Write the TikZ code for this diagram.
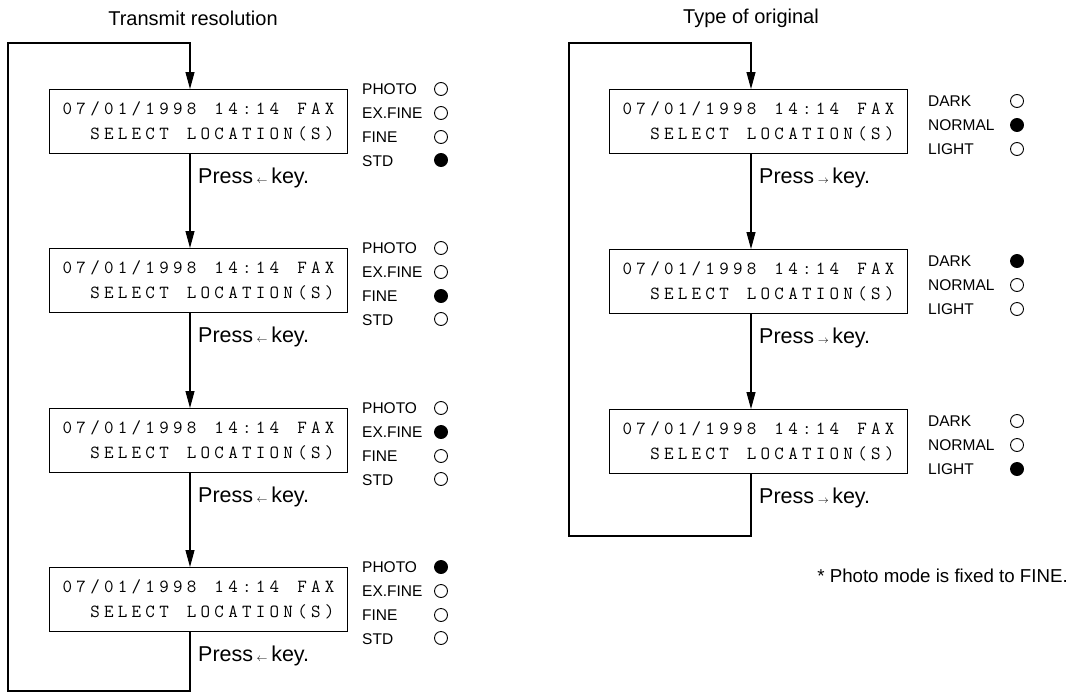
\documentclass[tikz,border=0pt]{standalone}
\usepackage{fontspec}
\setmainfont{Liberation Sans}
\usetikzlibrary{arrows.meta,calc}
\ExplSyntaxOn
\NewDocumentCommand\lcdtext{m}{\str_map_inline:nn{#1}{\makebox[13.8pt]{##1}}}
\ExplSyntaxOff
\newcommand\smallarr[1]{\raisebox{0pt}{$\scriptscriptstyle#1$}}
\begin{document}
\begin{tikzpicture}[x=1pt,y=-1pt,
  lcd/.style={draw, line width=1.1pt, minimum width=298pt, minimum height=64pt, inner sep=0pt, align=right, anchor=north west, font={\ttfamily\fontsize{18.5}{25}\selectfont}},
  lbl/.style={anchor=west, inner sep=0pt, font={\fontsize{15.5}{16}\selectfont}},
  dot/.style={circle, draw, line width=0.9pt, minimum size=13pt, inner sep=0pt},
  on/.style={dot, fill=black},
  press/.style={anchor=west, inner sep=0pt, font={\fontsize{21.5}{24}\selectfont}},
  ttl/.style={inner sep=0pt, font={\fontsize{20}{22}\selectfont}},
  flow/.style={line width=1.1pt, -{Triangle[length=17pt,width=9pt]}}]
\useasboundingbox (0,0) rectangle (1075,693);
% titles
\node[ttl] (T1) at (193,18) {Transmit resolution};
\node[ttl] (T2) at (751,18) {Type of original};
% left column
\foreach \i/\t/\a/\b/\c/\d in {1/89/dot/dot/dot/on, 2/248/dot/dot/on/dot, 3/408/dot/on/dot/dot, 4/567/on/dot/dot/dot}{
  \node[lcd] (L\i) at (49,\t) {\lcdtext{07/01/1998 14:14 FAX}\\\lcdtext{SELECT LOCATION(S)}};
  \node[lbl] (L\i p) at (362,\t) {PHOTO};
  \node[lbl] (L\i e) at (362,\t+24) {EX.FINE};
  \node[lbl] (L\i f) at (362,\t+48) {FINE};
  \node[lbl] (L\i s) at (362,\t+72) {STD};
  \node[\a] (L\i pc) at (441,\t) {};
  \node[\b] (L\i ec) at (441,\t+24) {};
  \node[\c] (L\i fc) at (441,\t+48) {};
  \node[\d] (L\i sc) at (441,\t+71) {};
  \node[press] (L\i k) at (198,\t+89) {Press\,\smallarr{\leftarrow}\,key.};
}
\coordinate (LX) at (190,0);
\coordinate (Ltop) at (8,43);
\coordinate (Lbot) at (8,691);
\draw[flow] (L4.south -| LX) |- (Lbot) -- (Ltop) -| (L1.north -| LX);
\draw[flow] (L1.south -| LX) -- (L2.north -| LX);
\draw[flow] (L2.south -| LX) -- (L3.north -| LX);
\draw[flow] (L3.south -| LX) -- (L4.north -| LX);
% right column
\foreach \i/\t/\a/\b/\c in {1/89/dot/on/dot, 2/249/on/dot/dot, 3/409/dot/dot/on}{
  \node[lcd] (R\i) at (609,\t) {\lcdtext{07/01/1998 14:14 FAX}\\\lcdtext{SELECT LOCATION(S)}};
  \node[lbl] (R\i d) at (928,\t+12) {DARK};
  \node[lbl] (R\i n) at (928,\t+36) {NORMAL};
  \node[lbl] (R\i l) at (928,\t+60) {LIGHT};
  \node[\a] (R\i dc) at (1017,\t+12) {};
  \node[\b] (R\i nc) at (1017,\t+36) {};
  \node[\c] (R\i lc) at (1017,\t+60) {};
  \node[press] (R\i k) at (759,\t+89) {Press\,\smallarr{\rightarrow}\,key.};
}
\coordinate (RX) at (751,0);
\coordinate (Rtop) at (569,43);
\coordinate (Rbot) at (569,536);
\draw[flow] (R3.south -| RX) |- (Rbot) -- (Rtop) -| (R1.north -| RX);
\draw[flow] (R1.south -| RX) -- (R2.north -| RX);
\draw[flow] (R2.south -| RX) -- (R3.north -| RX);
% footnote
\node[anchor=east, inner sep=0pt, font={\fontsize{18.7}{20}\selectfont}] (F) at (1068,576) {* Photo mode is fixed to FINE.};
\end{tikzpicture}
\end{document}
